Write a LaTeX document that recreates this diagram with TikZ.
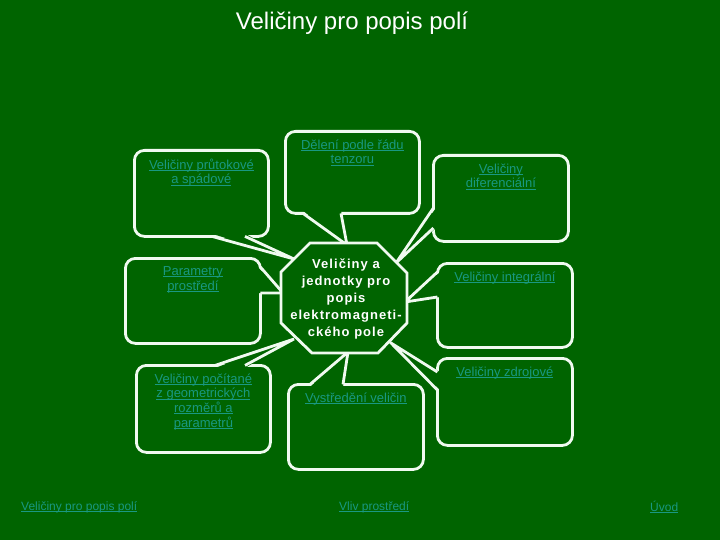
\documentclass[tikz,border=0pt]{standalone}
\usepackage{fontspec}
\setmainfont{Liberation Sans}
\definecolor{bg}{RGB}{0,100,0}
\definecolor{edge}{RGB}{240,250,240}
\definecolor{link}{RGB}{25,152,130}
% underlined link text, line at fixed depth
\newcommand\lnk[1]{\setbox0\hbox{#1}\rlap{\rule[-1.8pt]{\wd0}{1pt}}\box0}
\tikzset{
  bubble/.style={draw=edge, line width=2.8pt, fill=bg, rounded corners=10pt, inner sep=0pt, anchor=north west},
  spike/.style={draw=edge, line width=2.8pt, line join=miter},
  gap/.style={fill=bg},
  tag/.style={text=link, font=\fontsize{13}{14.6}\selectfont, align=center, anchor=north, yshift=-9.5pt, inner sep=0pt},
  foot/.style={text=link, font=\fontsize{12}{14}\selectfont, anchor=west, inner sep=0pt}
}
\begin{document}
\begin{tikzpicture}[x=1pt, y=-1pt]
  \fill[bg] (0,0) rectangle (720,540);
  \useasboundingbox (0,0) rectangle (720,540);

  \node (title) at (352,23) [text=white, font=\fontsize{24}{28}\selectfont] {Veličiny pro popis polí};

  % callout boxes
  \node (flow) [bubble, minimum width=134pt, minimum height=86pt,
    label={[tag]north:\lnk{Veličiny průtokové}\\\lnk{a spádové}}] at (133,149) {};
  \node (tensor) [bubble, minimum width=134pt, minimum height=82pt,
    label={[tag]north:\lnk{Dělení podle řádu}\\\lnk{tenzoru}}] at (284,130) {};
  \node (diff) [bubble, minimum width=135pt, minimum height=86pt,
    label={[tag]north:\lnk{Veličiny}\\\lnk{diferenciální}}] at (432,154) {};
  \node (integ) [bubble, minimum width=135pt, minimum height=84pt,
    label={[tag]north:\lnk{Veličiny integrální}}] at (436,262) {};
  \node (source) [bubble, minimum width=135pt, minimum height=87pt,
    label={[tag]north:\lnk{Veličiny zdrojové}}] at (436,357) {};
  \node (mean) [bubble, minimum width=135pt, minimum height=85pt,
    label={[tag]north:\lnk{Vystředění veličin}}] at (287,383) {};
  \node (geom) [bubble, minimum width=134pt, minimum height=87pt,
    label={[tag]north:\lnk{Veličiny počítané}\\\lnk{z geometrických}\\\lnk{rozměrů a}\\\lnk{parametrů}}] at (135,364) {};
  \node (medium) [bubble, minimum width=135pt, minimum height=85pt,
    label={[tag]north:\lnk{Parametry}\\\lnk{prostředí}}] at (124,257) {};

  % pointer tips at the octagon
  \coordinate (tflow) at (294,259);
  \coordinate (ttensor) at (347,245);
  \coordinate (tdiff) at (396,263);
  \coordinate (tinteg) at (405,302);
  \coordinate (tsource) at (391,343);
  \coordinate (tmean) at (348,352);
  \coordinate (tgeom) at (294,339);
  \coordinate (tmedium) at (283,293);

  % pointers: open the border, then the two sides
  \fill[gap] ([xshift=79pt, yshift=4pt]flow.south west) -- (tflow) -- ([xshift=112pt, yshift=4pt]flow.south west) -- cycle;
  \draw[spike] ([xshift=79pt, yshift=1.4pt]flow.south west) -- (tflow) -- ([xshift=112pt, yshift=1.4pt]flow.south west);
  \fill[gap] ([xshift=19pt, yshift=4pt]tensor.south west) -- (ttensor) -- ([xshift=57pt, yshift=4pt]tensor.south west) -- cycle;
  \draw[spike] ([xshift=19pt, yshift=1.4pt]tensor.south west) -- (ttensor) -- ([xshift=57pt, yshift=1.4pt]tensor.south west);
  \fill[gap] ([xshift=4pt, yshift=-54pt]diff.north west) -- (tdiff) -- ([xshift=4pt, yshift=-74pt]diff.north west) -- cycle;
  \draw[spike] ([xshift=1.4pt, yshift=-54pt]diff.north west) -- (tdiff) -- ([xshift=1.4pt, yshift=-74pt]diff.north west);
  \fill[gap] ([xshift=4pt, yshift=-10pt]integ.north west) -- (tinteg) -- ([xshift=4pt, yshift=-35pt]integ.north west) -- cycle;
  \draw[spike] ([xshift=1.4pt, yshift=-10pt]integ.north west) -- (tinteg) -- ([xshift=1.4pt, yshift=-35pt]integ.north west);
  \fill[gap] ([xshift=4pt, yshift=-15pt]source.north west) -- (tsource) -- ([xshift=4pt, yshift=-33pt]source.north west) -- cycle;
  \draw[spike] ([xshift=1.4pt, yshift=-15pt]source.north west) -- (tsource) -- ([xshift=1.4pt, yshift=-33pt]source.north west);
  \fill[gap] ([xshift=23pt, yshift=-4pt]mean.north west) -- (tmean) -- ([xshift=56pt, yshift=-4pt]mean.north west) -- cycle;
  \draw[spike] ([xshift=23pt, yshift=-1.4pt]mean.north west) -- (tmean) -- ([xshift=56pt, yshift=-1.4pt]mean.north west);
  \fill[gap] ([xshift=80pt, yshift=-4pt]geom.north west) -- (tgeom) -- ([xshift=110pt, yshift=-4pt]geom.north west) -- cycle;
  \draw[spike] ([xshift=80pt, yshift=-1.4pt]geom.north west) -- (tgeom) -- ([xshift=110pt, yshift=-1.4pt]geom.north west);
  \fill[gap] ([xshift=-4pt, yshift=-10pt]medium.north east) -- (tmedium) -- ([xshift=-4pt, yshift=-36pt]medium.north east) -- cycle;
  \draw[spike] ([xshift=-1.4pt, yshift=-10pt]medium.north east) -- (tmedium) -- ([xshift=-1.4pt, yshift=-36pt]medium.north east);

  % central octagon
  \filldraw[spike, fill=bg] (310,243) -- (377,243) -- (407,273) -- (407,323) -- (378,353) -- (312,353) -- (281,323) -- (281,272) -- cycle;
  \node (core) at (346,299) [text=white, align=center, inner sep=0pt,
    font=\fontsize{13}{16.8}\selectfont\bfseries\addfontfeature{LetterSpace=8}]
    {Veličiny a\\jednotky pro\\popis\\elektromagneti-\\ckého pole};

  % footer links
  \node (back) [foot] at (21,507) {\lnk{Veličiny pro popis polí}};
  \node (env) [foot] at (339,507) {\lnk{Vliv prostředí}};
  \node (home) [foot] at (650,507) {\lnk{Úvod}};
\end{tikzpicture}
\end{document}
